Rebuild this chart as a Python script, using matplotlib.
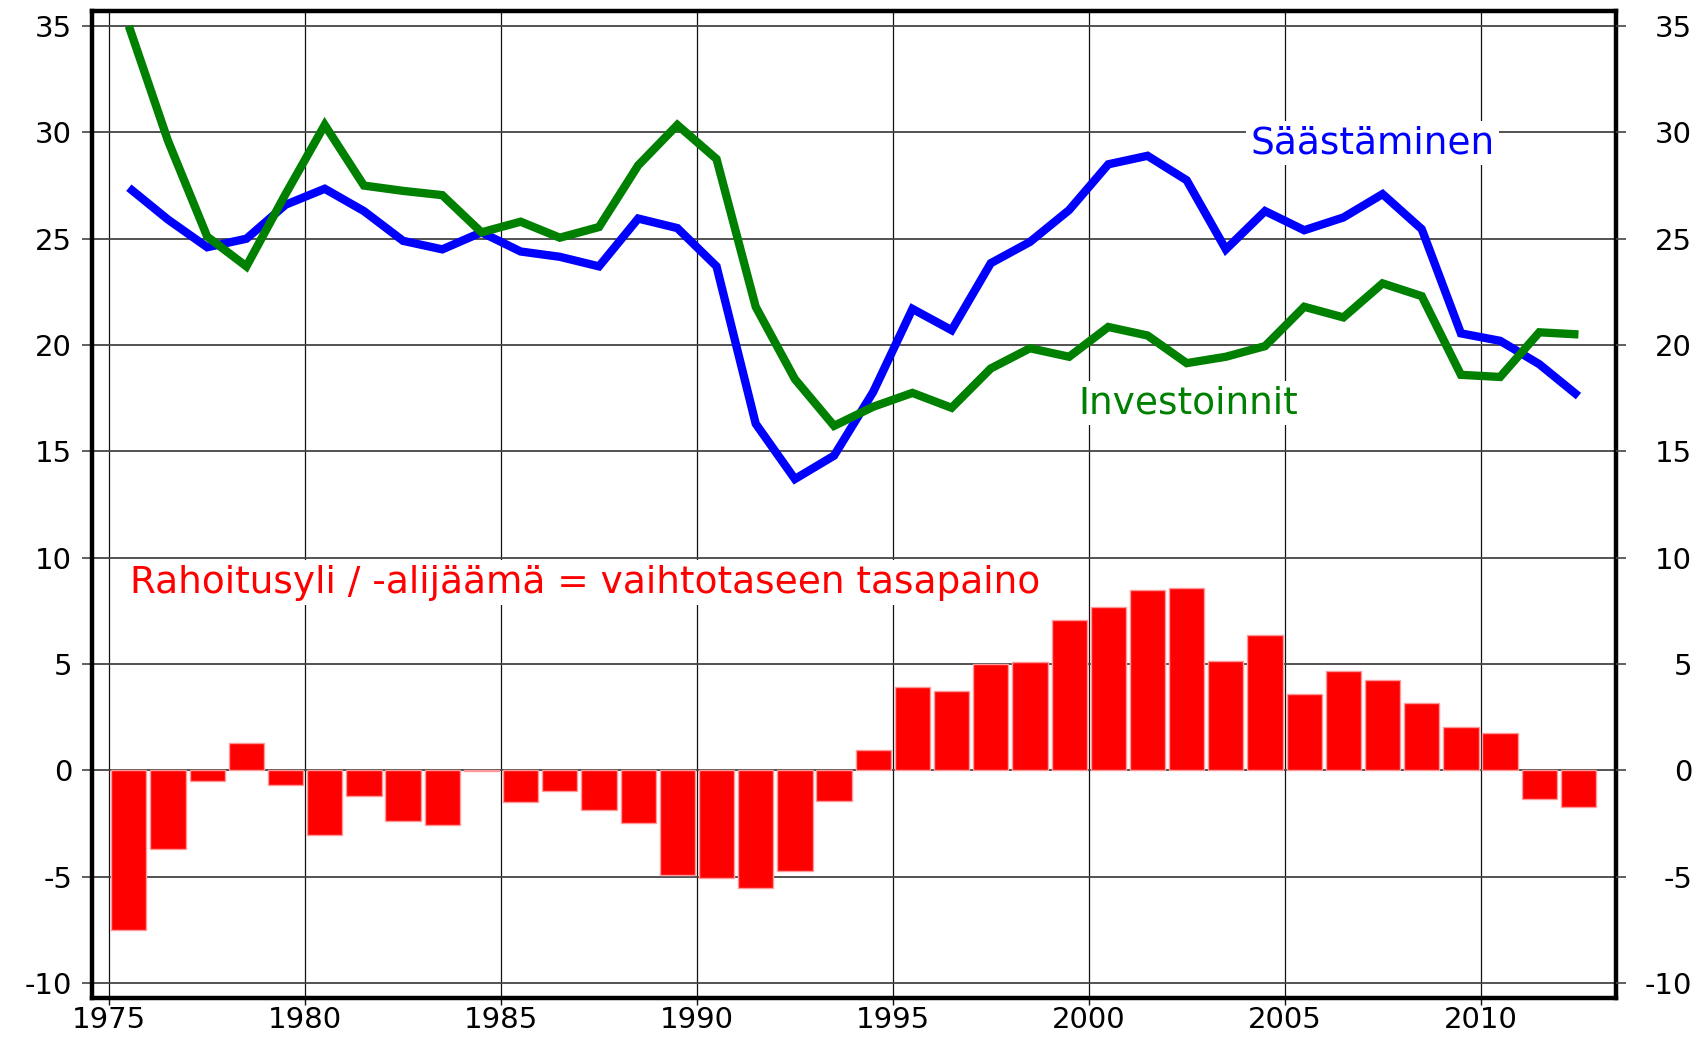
import matplotlib
matplotlib.use("Agg")
import matplotlib.pyplot as plt
import numpy as np

years = list(range(1975, 2013))

saastaminen = [27.4, 25.9, 24.6, 25.0, 26.6, 27.35, 26.3, 24.9, 24.5, 25.3,
               24.4, 24.15, 23.7, 25.95, 25.5, 23.7, 16.3, 13.7, 14.8, 17.8,
               21.7, 20.7, 23.85, 24.85, 26.35, 28.5, 28.9, 27.75, 24.5, 26.3,
               25.4, 26.0, 27.1, 25.45, 20.55, 20.2, 19.1, 17.6]

investoinnit = [35.0, 29.6, 25.1, 23.7, 27.1, 30.35, 27.5, 27.25, 27.05, 25.3,
                25.8, 25.05, 25.55, 28.45, 30.35, 28.75, 21.8, 18.4, 16.2, 17.1,
                17.75, 17.05, 18.9, 19.85, 19.45, 20.85, 20.45, 19.15, 19.45, 19.95,
                21.8, 21.3, 22.9, 22.3, 18.6, 18.5, 20.6, 20.5]

vaihtotase = [-7.53, -3.71, -0.52, 1.30, -0.67, -3.02, -1.20, -2.36, -2.57, -0.04,
              -1.49, -0.97, -1.88, -2.49, -4.91, -5.07, -5.52, -4.73, -1.42, 0.94,
              3.91, 3.71, 5.02, 5.09, 7.06, 7.67, 8.50, 8.58, 5.13, 6.38,
              3.61, 4.69, 4.27, 3.19, 2.05, 1.75, -1.33, -1.72]

xticks = [1975, 1980, 1985, 1990, 1995, 2000, 2005, 2010]
yticks = [-10, -5, 0, 5, 10, 15, 20, 25, 30, 35]

label_s = "Säästäminen"
label_i = "Investoinnit"
label_r = "Rahoitusyli / -alijäämä = vaihtotaseen tasapaino"

plt.rcParams['font.family'] = ['DejaVu Sans']

fig = plt.figure(figsize=(17, 10.37), dpi=100)
ax = fig.add_axes([0.0539, 0.0379, 0.8965, 0.9511])

x = np.array(years) + 0.5

ax.bar(x, vaihtotase, width=0.9, color='#ff0000', edgecolor='#ff9a9a',
       linewidth=1.0, zorder=2)
ax.plot(x, saastaminen, color='#0000ff', lw=6.0, solid_joinstyle='miter',
        solid_capstyle='butt', zorder=4)
ax.plot(x, investoinnit, color='#008000', lw=6.0, solid_joinstyle='miter',
        solid_capstyle='butt', zorder=5)

ax.set_xlim(1974.55, 2013.45)
ax.set_ylim(-10.69, 35.69)
ax.set_xticks(xticks)
ax.set_yticks(yticks)
ax.set_xticklabels([str(v) for v in xticks])
ax.set_yticklabels([str(v) for v in yticks])

for v in xticks:
    ax.axvline(v, color='#111111', lw=0.9, zorder=1)
for v in yticks:
    ax.axhline(v, color='#444444', lw=1.3, zorder=1)

for s in ax.spines.values():
    s.set_linewidth(3.2)
    s.set_color('black')
    s.set_zorder(10)

ax.tick_params(axis='x', direction='out', length=5, width=1, pad=1,
               labelsize=21, color='#111111')
ax.tick_params(axis='y', direction='out', length=7, width=1.2, pad=7,
               labelsize=21, color='#444444')

ax2 = ax.twinx()
ax2.set_ylim(ax.get_ylim())
ax2.set_yticks(yticks)
ax2.set_yticklabels([str(v) for v in yticks])
ax2.tick_params(axis='y', direction='out', length=7, width=1.2, pad=48,
                labelsize=21, color='#444444')
for lab in ax2.get_yticklabels():
    lab.set_ha('right')
for s in ax2.spines.values():
    s.set_visible(False)

ax.text(2007.24, 29.02, label_s, color='#0000ff', fontsize=27,
        ha='center', va='baseline', zorder=6,
        bbox=dict(facecolor='white', edgecolor='none', pad=3))
ax.text(2002.55, 16.79, label_i, color='#008000', fontsize=27,
        ha='center', va='baseline', zorder=6,
        bbox=dict(facecolor='white', edgecolor='none', pad=3))
ax.text(1975.53, 8.36, label_r, color='#ff0000', fontsize=27,
        ha='left', va='baseline', zorder=6,
        bbox=dict(facecolor='white', edgecolor='none', pad=3))

fig.savefig("out.png", dpi=100)
